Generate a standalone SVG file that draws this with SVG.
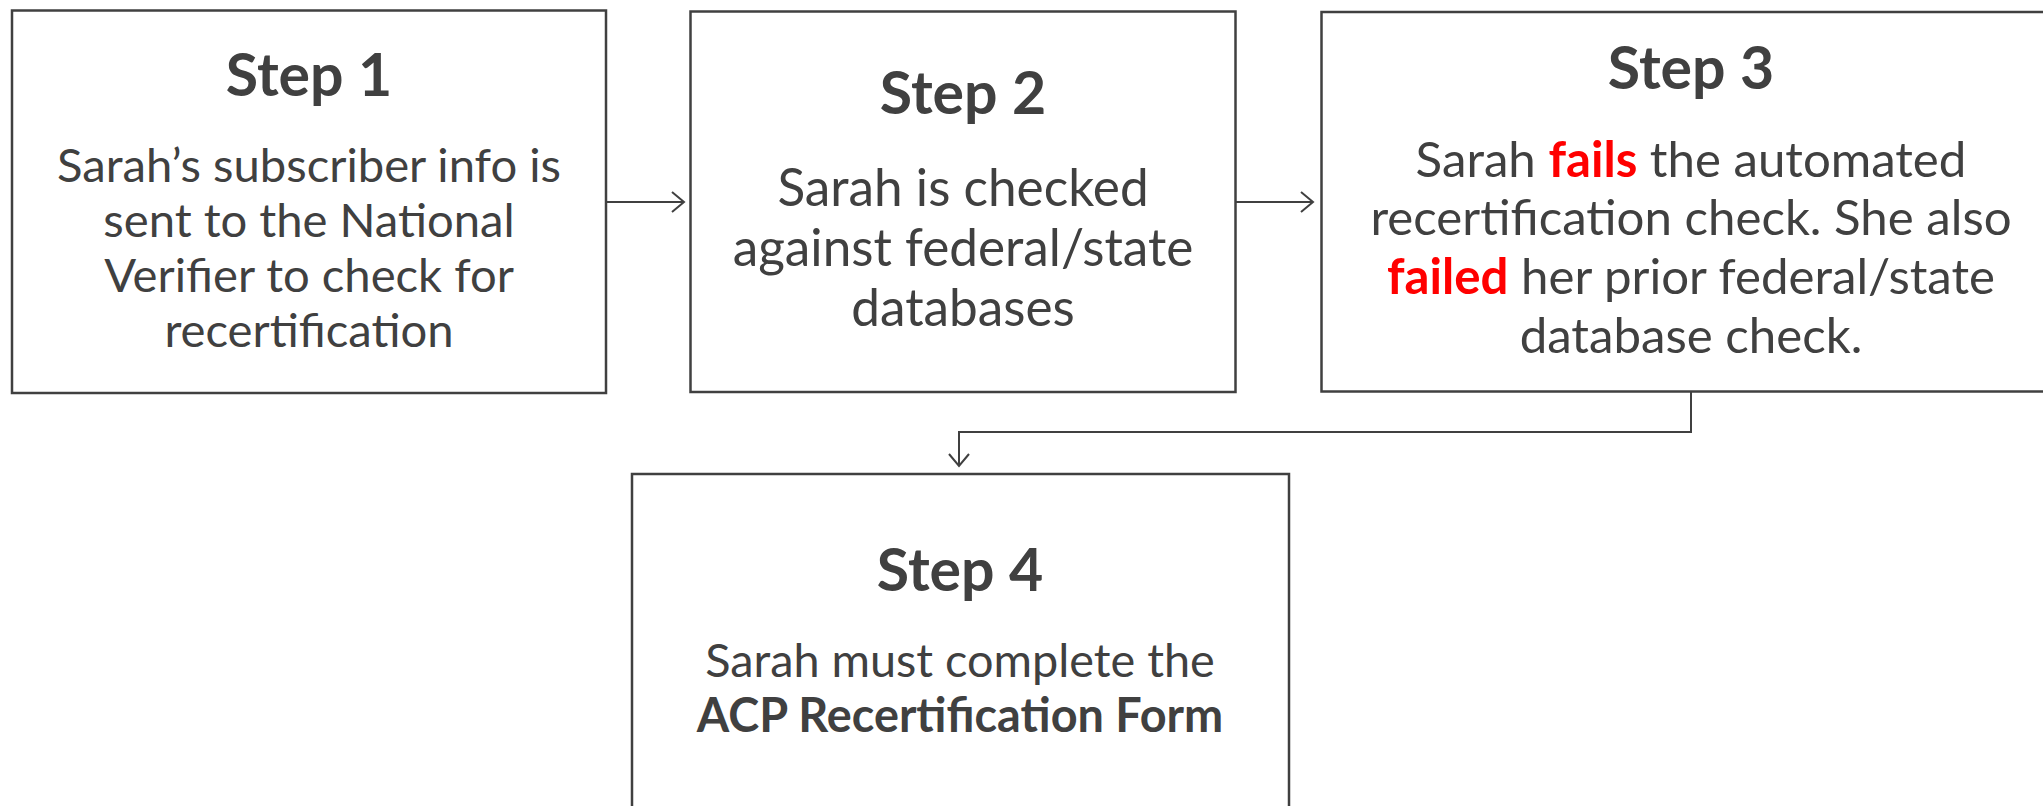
<svg xmlns="http://www.w3.org/2000/svg" width="2043" height="806" viewBox="0 0 2043 806">
  <style>
    .box { fill: #ffffff; stroke: #404040; stroke-width: 2.5; }
    .title { font-family: Lato, "Open Sans", sans-serif; font-weight: bold; font-size: 59px; fill: #404040; text-anchor: middle; }
    .body { font-family: Lato, "Open Sans", sans-serif; fill: #404040; text-anchor: middle; }
    .red { fill: #ff0000; font-weight: bold; }
    .b { font-weight: bold; }
    .conn { fill: none; stroke: #404040; stroke-width: 2; }
  </style>
  <defs>
    <marker id="arr" markerUnits="userSpaceOnUse" markerWidth="18" markerHeight="24" refX="15" refY="12" orient="auto">
      <path d="M3,2 L15,12 L3,22" fill="none" stroke="#404040" stroke-width="2"/>
    </marker>
  </defs>
  <rect width="2043" height="806" fill="#ffffff"/>

  <g id="connectors">
    <line class="conn" x1="607" y1="202" x2="684" y2="202" marker-end="url(#arr)"/>
    <line class="conn" x1="1236" y1="202" x2="1313" y2="202" marker-end="url(#arr)"/>
    <path class="conn" d="M1691,392 V432 H959 V466" marker-end="url(#arr)"/>
  </g>

  <g id="step1">
    <rect class="box" x="12" y="10.5" width="594" height="382.5"/>
    <text class="title" x="309" y="96">Step 1</text>
    <text class="body" font-size="47.2" x="309" y="182">Sarah’s subscriber info is</text>
    <text class="body" font-size="47.2" x="309" y="237">sent to the National</text>
    <text class="body" font-size="47.2" x="309" y="292">Verifier to check for</text>
    <text class="body" font-size="47.2" x="309" y="347">recertification</text>
  </g>

  <g id="step2">
    <rect class="box" x="690.5" y="11.5" width="545" height="380.5"/>
    <text class="title" x="963" y="114">Step 2</text>
    <text class="body" font-size="51.3" x="963" y="206">Sarah is checked</text>
    <text class="body" font-size="51.3" x="963" y="266">against federal/state</text>
    <text class="body" font-size="51.3" x="963" y="326">databases</text>
  </g>

  <g id="step3">
    <rect class="box" x="1321.5" y="12" width="740" height="379.5"/>
    <text class="title" x="1691" y="89">Step 3</text>
    <text class="body" font-size="49.2" x="1691" y="177">Sarah <tspan class="red">fails</tspan> the automated</text>
    <text class="body" font-size="49.2" x="1691" y="235">recertification check. She also</text>
    <text class="body" font-size="49.2" x="1691" y="294"><tspan class="red">failed</tspan> her prior federal/state</text>
    <text class="body" font-size="49.2" x="1691" y="353">database check.</text>
  </g>

  <g id="step4">
    <rect class="box" x="632" y="474" width="657" height="360"/>
    <text class="title" x="960" y="591">Step 4</text>
    <text class="body" font-size="46.8" x="960" y="677">Sarah must complete the</text>
    <text class="body b" font-size="46.8" x="960" y="732">ACP Recertification Form</text>
  </g>
</svg>
